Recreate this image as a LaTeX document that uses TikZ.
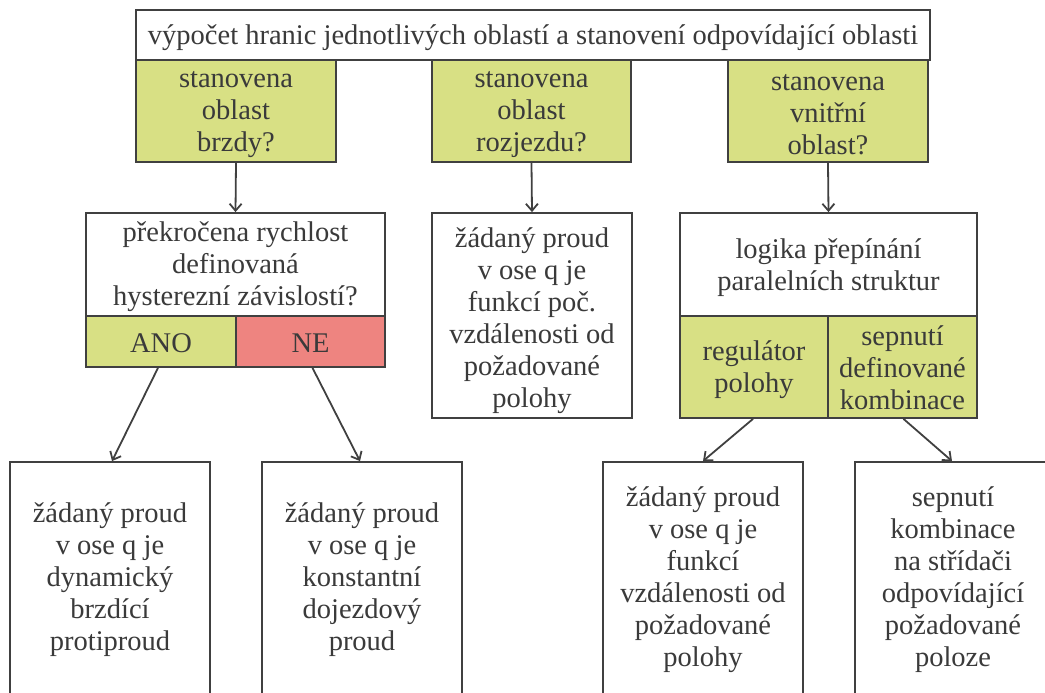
\documentclass[tikz,border=0pt]{standalone}
\usepackage{fontspec}
\setmainfont{Liberation Serif}
\usetikzlibrary{arrows.meta}
\definecolor{boxgreen}{RGB}{216,224,132}
\definecolor{boxred}{RGB}{238,132,128}
\definecolor{ink}{RGB}{58,58,58}
\definecolor{edge}{RGB}{64,64,64}
\begin{document}
\begin{tikzpicture}[x=1pt,y=-1pt,
  box/.style={draw=edge, line width=1.8pt, rectangle, inner sep=0pt},
  gbox/.style={box, fill=boxgreen},
  rbox/.style={box, fill=boxred},
  wbox/.style={box, fill=white},
  txt/.style={inner sep=0pt, align=center, text=ink, font=\fontsize{28.5}{32}\selectfont},
  conn/.style={draw=edge, line width=1.8pt, -{Straight Barb[length=7pt,width=12pt,line width=1.8pt]}}]
\useasboundingbox (0,0) rectangle (1045,693);
% top
\node[wbox, minimum width=794, minimum height=50] (top) at (533,35) {};
\node[txt] (topt) at ([yshift=-3pt]top.center) {výpočet hranic jednotlivých oblastí a stanovení odpovídající oblasti};
\node[gbox, minimum width=200, minimum height=102] (g1) at (236,111) {};
\node[txt] (g1t) at ([yshift=-4pt]g1.center) {stanovena\\oblast\\brzdy?};
\node[gbox, minimum width=199, minimum height=102] (g2) at (531.5,111) {};
\node[txt] (g2t) at ([yshift=-4pt]g2.center) {stanovena\\oblast\\rozjezdu?};
\node[gbox, minimum width=200, minimum height=102] (g3) at (828,111) {};
\node[txt] (g3t) at ([yshift=-4pt]g3.center) {stanovena\\vnitřní\\oblast?};
% middle
\node[wbox, minimum width=299, minimum height=103] (hyst) at (235.5,264.5) {};
\node[txt] (hystt) at ([yshift=-2pt]hyst.center) {překročena rychlost\\definovaná\\hysterezní závislostí?};
\node[gbox, minimum width=150, minimum height=51] (ano) at (161,341.5) {};
\node[txt] (anot) at ([yshift=-1.5pt]ano.center) {ANO};
\node[rbox, minimum width=149, minimum height=51] (ne) at (310.5,341.5) {};
\node[txt] (net) at ([yshift=-1.5pt]ne.center) {NE};
\node[wbox, minimum width=200, minimum height=205] (mid) at (532,315.5) {};
\node[txt] (midt) at ([yshift=-5pt]mid.center) {žádaný proud\\v ose q je\\funkcí poč.\\vzdálenosti od\\požadované\\polohy};
\node[wbox, minimum width=297, minimum height=103] (log) at (828.5,264.5) {};
\node[txt] (logt) at ([yshift=-3.5pt]log.center) {logika přepínání\\paralelních struktur};
\node[gbox, minimum width=148, minimum height=102] (reg) at (754,367) {};
\node[txt] (regt) at ([yshift=-2.5pt]reg.center) {regulátor\\polohy};
\node[gbox, minimum width=149, minimum height=102] (sep) at (902.5,367) {};
\node[txt] (sept) at ([yshift=-1pt]sep.center) {sepnutí\\definované\\kombinace};
% bottom
\node[wbox, minimum width=200, minimum height=232] (ba) at (110,578) {};
\node[txt] (bat) at ([yshift=-2pt]ba.center) {žádaný proud\\v ose q je\\dynamický\\brzdící\\protiproud};
\node[wbox, minimum width=200, minimum height=232] (bb) at (362,578) {};
\node[txt] (bbt) at ([yshift=-2pt]bb.center) {žádaný proud\\v ose q je\\konstantní\\dojezdový\\proud};
\node[wbox, minimum width=200, minimum height=232] (bc) at (703,578) {};
\node[txt] (bct) at ([yshift=-2pt]bc.center) {žádaný proud\\v ose q je\\funkcí\\vzdálenosti od\\požadované\\polohy};
\node[wbox, minimum width=200, minimum height=232] (bd) at (955,578) {};
\node[txt] (bdt) at ([xshift=-2pt,yshift=-2pt]bd.center) {sepnutí\\kombinace\\na střídači\\odpovídající\\požadované\\poloze};
% connectors
\draw[conn] (g1.south) -- (hyst.north);
\draw[conn] (g2.south) -- (mid.north);
\draw[conn] (g3.south) -- (log.north);
\draw[conn] ([xshift=-3pt]ano.south) -- ([xshift=2pt]ba.north);
\draw[conn] ([xshift=2pt]ne.south) -- ([xshift=-2pt]bb.north);
\draw[conn] ([xshift=-1pt]reg.south) -- (bc.north);
\draw[conn] ([xshift=1pt]sep.south) -- ([xshift=-3pt]bd.north);
\end{tikzpicture}
\end{document}
